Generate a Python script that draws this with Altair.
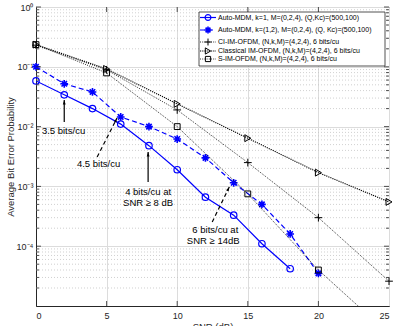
import altair as alt
import pandas as pd

# ---------------- data ----------------
snr_auto1 = [0, 2, 4, 6, 8, 10, 12, 14, 16, 18]
ber_auto1 = [0.058, 0.034, 0.020, 0.011, 0.0048, 0.0019, 6.6e-4, 3.3e-4, 1.1e-4, 4.2e-5]

snr_auto12 = [0, 2, 4, 6, 8, 10, 12, 14, 16, 18, 20]
ber_auto12 = [0.10, 0.052, 0.038, 0.0145, 0.010, 0.0062, 0.0030, 1.15e-3, 5.0e-4, 1.6e-4, 3.5e-5]

snr_ref = [0, 5, 10, 15, 20, 25]
ber_ci = [0.23, 0.089, 0.019, 0.0025, 3.0e-4, 2.6e-5]
ber_classical = [0.235, 0.092, 0.024, 0.0064, 1.7e-3, 5.5e-4]
ber_sim = [0.235, 0.079, 0.010, 7.5e-4, 4.0e-5, 3.4e-6]

legend_labels = [
    "Auto-MDM, k=1, M=(0,2,4), (Q,Kc)=(500,100)",
    "Auto-MDM, k=(1,2), M=(0,2,4), (Q, Kc)=(500,100)",
    "CI-IM-OFDM, (N,k,M)=(4,2,4), 6 bits/cu",
    "Classical IM-OFDM, (N,k,M)=(4,2,4), 6 bits/cu",
    "S-IM-OFDM, (N,k,M)=(4,2,4), 6 bits/cu",
]

# annotations (data coordinates)
ann_text = ["3.5 bits/cu", "4.5 bits/cu", "4 bits/cu at", "SNR \u2265 8 dB", "6 bits/cu at", "SNR \u2265 14dB"]
ann_text_snr = [1.95, 4.43, 7.94, 7.94, 12.7, 12.55]
ann_text_ber = [0.0084, 0.00237, 8.05e-4, 5.27e-4, 1.87e-4, 1.22e-4]

arrow_snr = [2.0, 4.33, 7.94, 12.48]
arrow_ber = [0.0119, 0.0031, 0.00119, 2.54e-4]
arrow_snr2 = [2.0, 5.74, 7.94, 13.69]
arrow_ber2 = [0.0279, 0.0139, 0.00376, 9.77e-4]
arrow_dashed = [False, True, False, True]
arrow_angle = [0, 27, 0, 26]

x_ticks = [0, 5, 10, 15, 20, 25]
y_major = [1, 0.1, 0.01, 0.001, 0.0001]
y_minor = [m * 10.0 ** e for e in range(-5, 0) for m in range(2, 10)]

# ---------------- layout ----------------
W, H = 353, 299
FONT = "Liberation Sans"
BLUE = "#0000ff"
AX = "#262626"

xs = alt.Scale(domain=[0, 25], nice=False, zero=False)
ys = alt.Scale(type="log", domain=[1e-5, 1], nice=False)

y_label_expr = (
    "datum.value >= 0.5 ? '10\u2070' : datum.value >= 0.05 ? '10\u207b\u00b9' : "
    "datum.value >= 0.005 ? '10\u207b\u00b2' : datum.value >= 0.0005 ? '10\u207b\u00b3' : '10\u207b\u2074'"
)

X_AXIS = alt.Axis(values=x_ticks, title="SNR (dB)", grid=True, gridColor="#dcdcdc",
                  tickSize=0, labelPadding=5, labelFontSize=9, labelColor=AX,
                  titleFontSize=9.5, titleFontWeight="normal", titleColor=AX,
                  titleBaseline="top", titleY=15, domainColor=AX)
Y_AXIS = alt.Axis(values=y_major, labelExpr=y_label_expr, title="Average Bit Error Probability",
                  grid=True, gridColor="#dcdcdc", tickSize=0, labelPadding=3,
                  labelFontSize=9, labelColor=AX, titleFontSize=9.5,
                  titleFontWeight="normal", titleColor=AX, titleAngle=270,
                  titleX=-26, titleY=H / 2, titleAlign="center", titleBaseline="middle",
                  domainColor=AX)


def xe(field="snr"):
    return alt.X(f"{field}:Q", scale=xs, axis=X_AXIS, title="SNR (dB)")


def ye(field="ber"):
    return alt.Y(f"{field}:Q", scale=ys, axis=Y_AXIS, title="Average Bit Error Probability")


layers = []

# axis carrier (invisible)
layers.append(
    alt.Chart(pd.DataFrame({"snr": [0, 25], "ber": [1e-5, 1]}))
    .mark_point(opacity=0).encode(x=xe(), y=ye())
)

# minor dotted grid
minor_df = pd.DataFrame({"ber": y_minor})
layers.append(
    alt.Chart(minor_df).mark_rule(color="#c4c4c4", strokeDash=[1, 2], strokeWidth=0.8)
    .encode(y=ye(), x=alt.value(0), x2=alt.value(W))
)

STAR = "M0,-1L0,1M-1,0L1,0M-0.7,-0.7L0.7,0.7M-0.7,0.7L0.7,-0.7"
PLUS = "M0,-1L0,1M-1,0L1,0"

series = [
    dict(snr=snr_auto1, ber=ber_auto1, color=BLUE, dash=None, lw=1.2,
         shape="circle", size=42, pw=1.2),
    dict(snr=snr_auto12, ber=ber_auto12, color=BLUE, dash=[5, 3], lw=1.2,
         shape=STAR, size=60, pw=1.6),
    dict(snr=snr_ref, ber=ber_ci, color="#000000", dash=[1, 1.2], lw=0.8,
         shape=PLUS, size=60, pw=1.0),
    dict(snr=snr_ref, ber=ber_classical, color="#000000", dash=[1.2, 1], lw=1.1,
         shape="triangle-right", size=48, pw=1.0),
    dict(snr=snr_ref, ber=ber_sim, color="#000000", dash=[1, 1.2], lw=0.8,
         shape="square", size=34, pw=1.0),
]

for s in series:
    df = pd.DataFrame({"snr": s["snr"], "ber": s["ber"]})
    lk = dict(color=s["color"], strokeWidth=s["lw"], clip=True)
    if s["dash"]:
        lk["strokeDash"] = s["dash"]
    layers.append(alt.Chart(df).mark_line(**lk).encode(x=xe(), y=ye()))
    layers.append(
        alt.Chart(df).transform_filter("datum.ber >= 1e-5")
        .mark_point(shape=s["shape"], size=s["size"], filled=False,
                    color=s["color"], strokeWidth=s["pw"], opacity=1)
        .encode(x=xe(), y=ye())
    )

# inside ticks (left/right y, top/bottom x)
tick_df_major = pd.DataFrame({"ber": y_major})
tick_df_minor = pd.DataFrame({"ber": y_minor})
for dfv, ln in [(tick_df_major, 5), (tick_df_minor, 3)]:
    layers.append(alt.Chart(dfv).mark_rule(color=AX, strokeWidth=0.8)
                  .encode(y=ye(), x=alt.value(0), x2=alt.value(ln)))
    layers.append(alt.Chart(dfv).mark_rule(color=AX, strokeWidth=0.8)
                  .encode(y=ye(), x=alt.value(W), x2=alt.value(W - ln)))
xt_df = pd.DataFrame({"snr": x_ticks[1:-1]})
layers.append(alt.Chart(xt_df).mark_rule(color=AX, strokeWidth=0.8)
              .encode(x=xe(), y=alt.value(H), y2=alt.value(H - 5)))
layers.append(alt.Chart(xt_df).mark_rule(color=AX, strokeWidth=0.8)
              .encode(x=xe(), y=alt.value(0), y2=alt.value(5)))

# annotation arrows
arr_df = pd.DataFrame({"snr": arrow_snr, "ber": arrow_ber, "snr2": arrow_snr2,
                       "ber2": arrow_ber2, "dashed": arrow_dashed, "ang": arrow_angle})
for dashed in [False, True]:
    sub = arr_df[arr_df["dashed"] == dashed]
    rk = dict(color="#000000", strokeWidth=1.2)
    if dashed:
        rk["strokeDash"] = [4, 3]
    layers.append(alt.Chart(sub).mark_rule(**rk)
                  .encode(x=xe(), y=ye(), x2="snr2:Q", y2="ber2:Q"))
ARROW = "M0,0L-0.45,1.4L0.45,1.4Z"
layers.append(
    alt.Chart(arr_df).mark_point(shape=ARROW, size=40, filled=True, color="#000000", opacity=1)
    .encode(x=xe("snr2"), y=ye("ber2"), angle=alt.Angle("ang:Q", scale=None))
)

txt_df = pd.DataFrame({"snr": ann_text_snr, "ber": ann_text_ber, "t": ann_text})
layers.append(
    alt.Chart(txt_df).mark_text(font=FONT, fontSize=9.5, color="#000000", align="center",
                                baseline="middle")
    .encode(x=xe(), y=ye(), text="t:N")
)

# legend box
one = pd.DataFrame({"a": [0]})
LX0, LX1, LY0, LY1 = 163, 349, 5, 59
layers.append(
    alt.Chart(one).mark_rect(fill="#ffffff", stroke=AX, strokeWidth=0.8)
    .encode(x=alt.value(LX0), x2=alt.value(LX1), y=alt.value(LY0), y2=alt.value(LY1))
)
row_y = [10.5, 23, 35, 44, 52]
for i, s in enumerate(series):
    yv = row_y[i]
    rk = dict(color=s["color"], strokeWidth=s["lw"])
    if s["dash"]:
        rk["strokeDash"] = s["dash"]
    layers.append(alt.Chart(one).mark_rule(**rk)
                  .encode(x=alt.value(LX0 + 1), x2=alt.value(LX0 + 17), y=alt.value(yv)))
    layers.append(alt.Chart(one).mark_point(shape=s["shape"], size=s["size"] * 0.8, filled=False,
                                            color=s["color"], strokeWidth=s["pw"], opacity=1)
                  .encode(x=alt.value(LX0 + 9), y=alt.value(yv)))
    layers.append(alt.Chart(one).mark_text(font=FONT, fontSize=7, color="#000000", align="left",
                                           baseline="middle")
                  .encode(x=alt.value(LX0 + 19), y=alt.value(yv), text=alt.value(legend_labels[i])))

chart = (
    alt.layer(*layers)
    .properties(width=W, height=H, autosize=alt.AutoSizeParams(type="none"),
                padding={"left": 36, "top": 7, "right": 5, "bottom": 20})
    .configure(font=FONT)
    .configure_view(stroke=AX, strokeWidth=1)
)

chart.save("out.html", embed_options={"renderer": "svg", "actions": False})
